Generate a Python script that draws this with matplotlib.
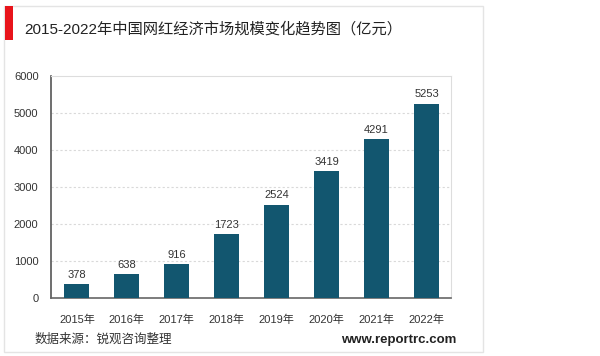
import matplotlib.pyplot as plt
from matplotlib.patches import Rectangle

plt.rcParams['font.family'] = ['Liberation Sans', 'Noto Sans CJK SC', 'DejaVu Sans']

# 数据
years = ['2015年', '2016年', '2017年', '2018年', '2019年', '2020年', '2021年', '2022年']
values = [378, 638, 916, 1723, 2524, 3419, 4291, 5253]
yticks = [0, 1000, 2000, 3000, 4000, 5000, 6000]

W, H = 600, 356
fig = plt.figure(figsize=(6, 3.56), dpi=100)

# 卡片边框 + 红色标记
fig.patches.append(Rectangle((4 / W, 1 - 352 / H), 479 / W, 346 / H, transform=fig.transFigure,
                             facecolor='white', edgecolor='#e4e4e4', linewidth=1, zorder=-2))
fig.patches.append(Rectangle((5 / W, 1 - 40 / H), 8 / W, 34 / H, transform=fig.transFigure,
                             facecolor='#e8141b', edgecolor='none', zorder=-1))
fig.text(24 / W, 1 - 29 / H, '2015-2022年中国网红经济市场规模变化趋势图（亿元）',
         fontsize=11, color='#222222', va='center', ha='left')

ax = fig.add_axes([51 / W, 1 - 298 / H, 400 / W, 222 / H])
ax.patch.set_alpha(0)
x = range(len(years))
bars = ax.bar(x, values, width=0.5, color='#12566f', zorder=3)
for xi, v in zip(x, values):
    ax.text(xi, v + 120, str(v), ha='center', va='bottom', fontsize=8, color='#333333')

ax.set_xlim(-0.52, 7.49)
ax.set_ylim(0, 6000)
ax.set_yticks(yticks)
ax.set_xticks(list(x))
ax.set_xticklabels(years)
ax.tick_params(length=0, labelsize=8, colors='#333333')
ax.tick_params(axis='x', pad=12)
ax.tick_params(axis='y', pad=9)

for y in yticks[1:-1]:
    ax.axhline(y, color='#d9d9d9', linestyle=(0, (2, 2)), linewidth=0.8, zorder=1)

ax.spines['left'].set_color('#555555')
ax.spines['bottom'].set_color('#666666')
ax.spines['top'].set_color('#dddddd')
ax.spines['right'].set_color('#dddddd')
ax.spines['left'].set_linewidth(1.2)
ax.spines['bottom'].set_linewidth(1.2)

fig.text(35 / W, 1 - 340 / H, '数据来源：锐观咨询整理', fontsize=9, color='#333333', va='center', ha='left')
fig.text(456 / W, 1 - 340 / H, 'www.reportrc.com', fontsize=9.5, fontweight='bold', color='#222222',
         va='center', ha='right')

fig.savefig('out.png', dpi=100)
